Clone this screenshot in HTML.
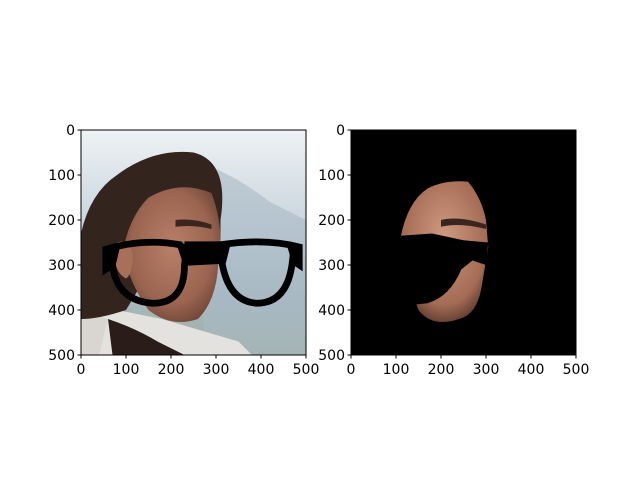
<!DOCTYPE html>
<html><head><meta charset="utf-8"><style>
body{margin:0;background:#fff;width:640px;height:480px;overflow:hidden;font-family:"Liberation Sans","DejaVu Sans",sans-serif}
svg text{font-family:"DejaVu Sans","Liberation Sans",sans-serif;font-size:14px;fill:#000}
</style></head><body>
<svg width="640" height="480">
<defs>
<linearGradient id="sky" x1="0" y1="0" x2="0" y2="1">
<stop offset="0" stop-color="#eef2f4"/><stop offset="0.45" stop-color="#c7d3dc"/><stop offset="0.75" stop-color="#a7b8c2"/><stop offset="1" stop-color="#9fae9f"/></linearGradient>
<radialGradient id="skin" cx="0.5" cy="0.45" r="0.6"><stop offset="0" stop-color="#b98068"/><stop offset="0.7" stop-color="#9a6450"/><stop offset="1" stop-color="#6e4536"/></radialGradient>
<radialGradient id="skin2" cx="0.5" cy="0.4" r="0.6"><stop offset="0" stop-color="#d09a80"/><stop offset="0.8" stop-color="#a46b55"/><stop offset="1" stop-color="#6a4436"/></radialGradient>
<clipPath id="c1"><rect x="0" y="0" width="500" height="500"/></clipPath>
</defs>
<g transform="translate(81,130) scale(0.45)" clip-path="url(#c1)">
<rect width="500" height="500" fill="url(#sky)"/>
<path d="M230 60 Q330 90 420 160 L500 200 L500 500 L280 500 Z" fill="#a9b9c5" opacity="0.6"/>
<path d="M0 520 L0 400 Q40 380 80 400 L180 420 L350 470 L380 500 Z" fill="#e4e2df"/>
<path d="M60 420 Q120 440 170 470 L230 500 L70 500 Z" fill="#2a1c18"/>
<path d="M0 500 L0 400 L60 420 L40 500Z" fill="#d9d6d2"/>
<path d="M0 420 L0 230 Q20 140 80 100 Q160 40 250 50 Q330 70 310 200 L310 280 L160 300 L100 400 Q40 420 0 420Z" fill="#33241e"/>
<path d="M150 150 Q220 110 290 140 Q320 220 305 300 Q300 380 260 420 Q200 440 150 400 Q100 330 95 260 Q110 190 150 150Z" fill="url(#skin)"/>
<path d="M80 250 Q110 240 115 280 Q115 320 100 330 Q80 320 75 290Z" fill="#a87058"/>
<path d="M210 200 Q250 195 290 210 L290 220 Q250 210 210 215Z" fill="#3a2520"/>
<g fill="none" stroke="#000">
<path d="M55 265 L55 310 L70 300 Q80 380 160 385 Q230 385 230 300 Q235 270 220 255 Q140 240 55 265Z" stroke-width="15"/>
<path d="M230 275 L310 270 Q320 380 390 385 Q460 385 470 290 L485 300 L485 260 Q410 240 310 255 L230 255" stroke-width="15"/>
<path d="M55 260 L85 258 L75 300 L60 310Z" fill="#000" stroke-width="4"/>
<path d="M215 255 L330 255 L320 295 L230 300Z" fill="#000" stroke-width="4"/>
<path d="M460 258 L485 260 L485 300 L470 290Z" fill="#000" stroke-width="4"/>
</g>
</g>
<rect x="81" y="130" width="225" height="225" fill="none" stroke="#000" stroke-width="1"/>
<g transform="translate(351,130) scale(0.45)">
<rect width="500" height="500" fill="#000"/>
<path d="M170 130 Q210 110 260 115 Q290 150 300 200 L305 260 L290 350 Q280 410 240 420 Q180 440 150 400 Q130 350 140 320 Q110 290 110 240 Q125 160 170 130Z" fill="url(#skin2)"/>
<path d="M110 235 L180 230 L250 245 L305 250 L300 300 L270 290 L245 310 Q220 370 170 385 L120 390 L120 300 Q100 280 110 235Z" fill="#000"/>
<path d="M200 200 Q240 190 300 210 L300 220 Q240 205 200 215Z" fill="#3a2520"/>
</g>
<rect x="351" y="130" width="225" height="225" fill="none" stroke="#000" stroke-width="1"/>
<g id="ticks"></g>
</svg>
<script>
const tickValues=[0,100,200,300,400,500];
const axesLeft=[81,351];
const g=document.getElementById('ticks');
const NS='http://www.w3.org/2000/svg';
const top0=130, size=225, extent=500;
function sx(x0,v){return x0+v/extent*size;}
function sy(v){return top0+v/extent*size;}
axesLeft.forEach((x0,ai)=>{
 tickValues.forEach(v=>{
  let l=document.createElementNS(NS,'line');
  
  
  l.setAttribute('x1',sx(x0,v));l.setAttribute('x2',sx(x0,v));l.setAttribute('y1',top0+size);l.setAttribute('y2',top0+size+3.5);l.setAttribute('stroke','#000');g.appendChild(l);
  let t=document.createElementNS(NS,'text');
  
  
  t.setAttribute('x',sx(x0,v));t.setAttribute('y',top0+size+19);t.setAttribute('text-anchor','middle');t.textContent=v;g.appendChild(t);
  let l2=document.createElementNS(NS,'line');
  
  
  l2.setAttribute('x1',x0-3.5);l2.setAttribute('x2',x0);l2.setAttribute('y1',sy(v));l2.setAttribute('y2',sy(v));l2.setAttribute('stroke','#000');g.appendChild(l2);
  let t2=document.createElementNS(NS,'text');
  
  
  t2.setAttribute('x',x0-6);t2.setAttribute('y',sy(v)+5);t2.setAttribute('text-anchor','end');t2.textContent=v;g.appendChild(t2);
 });
});
</script>
</body></html>
